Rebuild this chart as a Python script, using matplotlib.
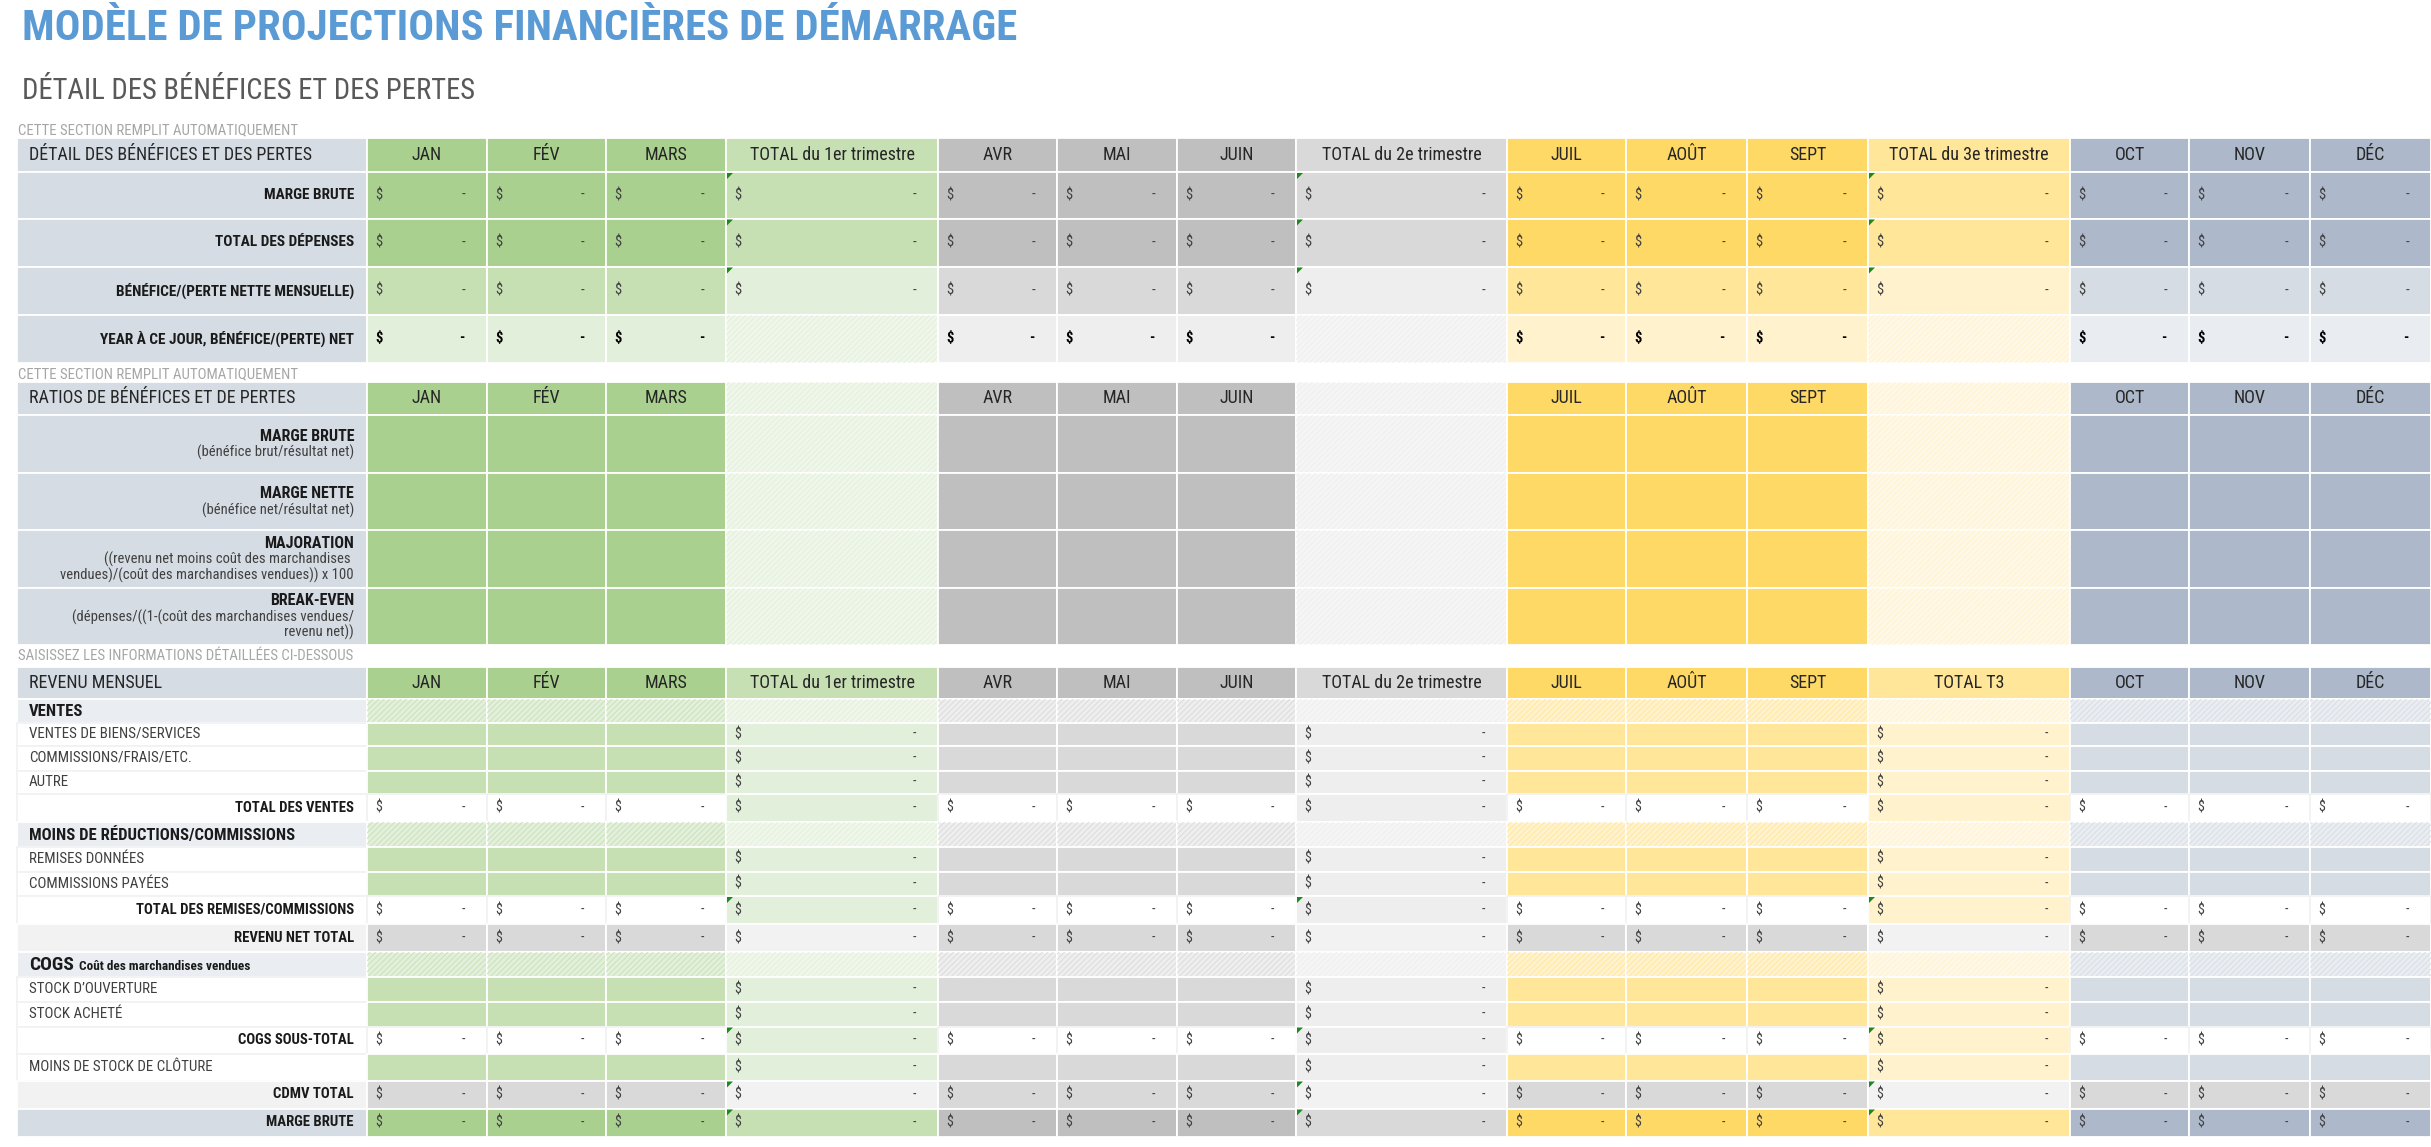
import matplotlib
matplotlib.use("Agg")
import matplotlib.pyplot as plt
from matplotlib.patches import Rectangle, Polygon
from matplotlib import font_manager

# ---- libellés du modèle ----
mois = ["JAN", "FÉV", "MARS", "AVR", "MAI", "JUIN", "JUIL", "AOÛT", "SEPT", "OCT", "NOV", "DÉC"]
totaux_s1 = ["TOTAL du 1er trimestre", "TOTAL du 2e trimestre", "TOTAL du 3e trimestre"]
totaux_s3 = ["TOTAL du 1er trimestre", "TOTAL du 2e trimestre", "TOTAL T3"]

titre = "MODÈLE DE PROJECTIONS FINANCIÈRES DE DÉMARRAGE"
sous_titre = "DÉTAIL DES BÉNÉFICES ET DES PERTES"
note_auto = "CETTE SECTION REMPLIT AUTOMATIQUEMENT"
note_saisie = "SAISISSEZ LES INFORMATIONS DÉTAILLÉES CI-DESSOUS"

entete_s1 = "DÉTAIL DES BÉNÉFICES ET DES PERTES"
lignes_s1 = ["MARGE BRUTE", "TOTAL DES DÉPENSES", "BÉNÉFICE/(PERTE NETTE MENSUELLE)",
             "YEAR À CE JOUR, BÉNÉFICE/(PERTE) NET"]

entete_s2 = "RATIOS DE BÉNÉFICES ET DE PERTES"
lignes_s2 = ["MARGE BRUTE", "MARGE NETTE", "MAJORATION", "BREAK-EVEN"]
notes_s2 = [["(bénéfice brut/résultat net)"],
            ["(bénéfice net/résultat net)"],
            ["((revenu net moins coût des marchandises ",
             "vendues)/(coût des marchandises vendues)) x 100"],
            ["(dépenses/((1-(coût des marchandises vendues/", "revenu net))"]]

entete_s3 = "REVENU MENSUEL"
lignes_s3 = ["VENTES", "VENTES DE BIENS/SERVICES", "COMMISSIONS/FRAIS/ETC.", "AUTRE",
             "TOTAL DES VENTES", "MOINS DE RÉDUCTIONS/COMMISSIONS", "REMISES DONNÉES",
             "COMMISSIONS PAYÉES", "TOTAL DES REMISES/COMMISSIONS", "REVENU NET TOTAL",
             "COGS", "STOCK D’OUVERTURE", "STOCK ACHETÉ", "COGS SOUS-TOTAL",
             "MOINS DE STOCK DE CLÔTURE", "CDMV TOTAL", "MARGE BRUTE"]
genres_s3 = ["sec", "in", "in", "in", "tot", "sec", "in", "in", "tot", "net",
             "sec", "in", "in", "tot", "in", "net", "gm"]
cogs_detail = "Coût des marchandises vendues"
valeur = "-"

# ---- mise en page (pixels) ----
W, H = 2431, 1147
bords_col = [17, 367, 487, 606, 726, 938, 1057, 1177, 1296, 1507, 1626, 1747, 1868,
             2070, 2189, 2310, 2431]
bords_s1 = [138, 172, 218.5, 266.5, 314.5, 362.5]
bords_s2 = [381.5, 415, 473, 530, 587.5, 644.5]
bords_s3 = [666.5, 699, 722.5, 745.5, 770.5, 794, 821.5, 846.5, 871.5, 896, 924, 952,
            977, 1001.5, 1026.5, 1054, 1080.5, 1108.5, 1136.5]

PAL = [dict(d="#A9D08E", m="#C6E0B4", l="#E2EFDA", p="#EFF6EA"),
       dict(d="#BFBFBF", m="#D9D9D9", l="#EEEEEE", p="#F5F5F5"),
       dict(d="#FFD966", m="#FFE699", l="#FFF2CC", p="#FFF8E6"),
       dict(d="#ADB9CA", m="#D6DCE4", l="#E9EDF2", p="#F3F5F8")]
BLEU_LBL = "#D6DCE4"

dispo = {f.name for f in font_manager.fontManager.ttflist}
police = next((f for f in ["Liberation Sans Narrow", "Roboto Condensed", "Liberation Sans"]
               if f in dispo), "DejaVu Sans")
plt.rcParams["font.family"] = [police, "DejaVu Sans"]
plt.rcParams["hatch.linewidth"] = 0.6

fig = plt.figure(figsize=(W / 100, H / 100), dpi=100)
ax = fig.add_axes([0, 0, 1, 1])
ax.set_xlim(0, W)
ax.set_ylim(H, 0)
ax.axis("off")

# colonnes : (x0, x1, genre, trimestre, index mois)
colonnes = []
k = 1
im = 0
for q in range(4):
    for _ in range(3):
        colonnes.append((bords_col[k], bords_col[k + 1], "m", q, im))
        k += 1
        im += 1
    if q < 3:
        colonnes.append((bords_col[k], bords_col[k + 1], "t", q, None))
        k += 1

XD = bords_col[1] - 13   # bord droit des libellés


def cellule(x0, x1, y0, y1, fc, hachure=None, ec="white"):
    ax.add_patch(Rectangle((x0, y0), x1 - x0, y1 - y0, facecolor=fc, edgecolor=ec, linewidth=1.3))
    if hachure:
        ax.add_patch(Rectangle((x0, y0), x1 - x0, y1 - y0, facecolor="none",
                               edgecolor=hachure, linewidth=0, hatch="//////"))


def dollar(x0, x1, ym, gras=False, couleur="#404040", taille=10.5):
    w = "bold" if gras else "normal"
    ax.text(x0 + 8, ym, "$", ha="left", va="center", fontsize=taille, color=couleur, fontweight=w)
    ax.text(x1 - 22, ym, valeur, ha="right", va="center", fontsize=taille, color=couleur, fontweight=w)


def triangle(x0, y0):
    ax.add_patch(Polygon([(x0 + 1, y0 + 1), (x0 + 7, y0 + 1), (x0 + 1, y0 + 7)],
                         closed=True, facecolor="#1B8A1B", edgecolor="none"))


def ajuster(t, largeur):
    r = fig.canvas.get_renderer()
    bb = t.get_window_extent(r)
    t.set_fontsize(t.get_fontsize() * largeur / bb.width)


# ---- titres ----
t = ax.text(22, 28, titre, ha="left", va="center", fontsize=30, fontweight="bold", color="#5B9BD5")
ajuster(t, 993)
t = ax.text(22, 91, sous_titre, ha="left", va="center", fontsize=20, color="#595959")
ajuster(t, 452)
for y, txt, larg in [(130, note_auto, 279), (374, note_auto, 279), (656, note_saisie, 337)]:
    t = ax.text(18, y, txt, ha="left", va="center", fontsize=8, color="#A6A6A6")
    ajuster(t, larg)

ENT = 13
COUL_ENT = "#262626"

# ---- section 1 ----
y0, y1 = bords_s1[0], bords_s1[1]
cellule(bords_col[0], bords_col[1], y0, y1, BLEU_LBL)
ax.text(29, (y0 + y1) / 2, entete_s1, ha="left", va="center", fontsize=ENT, color=COUL_ENT)
for x0, x1, g, q, i in colonnes:
    cellule(x0, x1, y0, y1, PAL[q]["d"] if g == "m" else PAL[q]["m"])
    lbl = mois[i] if g == "m" else totaux_s1[q]
    ax.text((x0 + x1) / 2, (y0 + y1) / 2, lbl, ha="center", va="center", fontsize=ENT, color=COUL_ENT)

for r, lbl in enumerate(lignes_s1):
    y0, y1 = bords_s1[r + 1], bords_s1[r + 2]
    ym = (y0 + y1) / 2
    cellule(bords_col[0], bords_col[1], y0, y1, BLEU_LBL)
    ax.text(XD, ym, lbl, ha="right", va="center", fontsize=11,
            fontweight="bold", color="#1A1A1A")
    for x0, x1, g, q, i in colonnes:
        if r < 2:
            fc = PAL[q]["d"] if g == "m" else PAL[q]["m"]
        elif r == 2:
            fc = PAL[q]["m"] if g == "m" else PAL[q]["l"]
        else:
            fc = PAL[q]["l"] if g == "m" else PAL[q]["p"]
        if r == 3 and g == "t":
            cellule(x0, x1, y0, y1, fc, hachure=PAL[q]["l"])
            continue
        cellule(x0, x1, y0, y1, fc)
        if r == 3:
            dollar(x0, x1, ym, gras=True, couleur="#000000")
        else:
            dollar(x0, x1, ym)
            if g == "t":
                triangle(x0, y0)

# ---- section 2 ----
y0, y1 = bords_s2[0], bords_s2[1]
cellule(bords_col[0], bords_col[1], y0, y1, BLEU_LBL)
ax.text(29, (y0 + y1) / 2, entete_s2, ha="left", va="center", fontsize=ENT, color=COUL_ENT)
for x0, x1, g, q, i in colonnes:
    if g == "m":
        cellule(x0, x1, y0, y1, PAL[q]["d"])
        ax.text((x0 + x1) / 2, (y0 + y1) / 2, mois[i], ha="center", va="center",
                fontsize=ENT, color=COUL_ENT)
    else:
        cellule(x0, x1, y0, y1, PAL[q]["p"], hachure=PAL[q]["l"])

for r, lbl in enumerate(lignes_s2):
    y0, y1 = bords_s2[r + 1], bords_s2[r + 2]
    ym = (y0 + y1) / 2
    cellule(bords_col[0], bords_col[1], y0, y1, BLEU_LBL)
    n = 1 + len(notes_s2[r])
    haut = ym - (n - 1) * 15.5 / 2
    ax.text(XD, haut, lbl, ha="right", va="center", fontsize=11.5,
            fontweight="bold", color="#1A1A1A")
    for j, ligne in enumerate(notes_s2[r]):
        ax.text(XD, haut + 15.5 * (j + 1) + 1, ligne, ha="right", va="center",
                fontsize=10.5, color="#404040")
    for x0, x1, g, q, i in colonnes:
        if g == "m":
            cellule(x0, x1, y0, y1, PAL[q]["d"])
        else:
            cellule(x0, x1, y0, y1, PAL[q]["p"], hachure=PAL[q]["l"])

# ---- section 3 ----
y0, y1 = bords_s3[0], bords_s3[1]
cellule(bords_col[0], bords_col[1], y0, y1, BLEU_LBL)
ax.text(29, (y0 + y1) / 2, entete_s3, ha="left", va="center", fontsize=ENT, color=COUL_ENT)
for x0, x1, g, q, i in colonnes:
    cellule(x0, x1, y0, y1, PAL[q]["d"] if g == "m" else PAL[q]["m"])
    lbl = mois[i] if g == "m" else totaux_s3[q]
    ax.text((x0 + x1) / 2, (y0 + y1) / 2, lbl, ha="center", va="center", fontsize=ENT, color=COUL_ENT)

fond_lbl = {"sec": "#EAEEF3", "in": "white", "tot": "white", "net": "#F2F2F2", "gm": BLEU_LBL}
avec_triangle = ["TOTAL DES REMISES/COMMISSIONS", "COGS SOUS-TOTAL", "CDMV TOTAL", "MARGE BRUTE"]

for r, lbl in enumerate(lignes_s3):
    y0, y1 = bords_s3[r + 1], bords_s3[r + 2]
    ym = (y0 + y1) / 2
    g3 = genres_s3[r]
    cellule(bords_col[0], bords_col[1], y0, y1, fond_lbl[g3],
            ec="#F2F2F2" if fond_lbl[g3] == "white" else "white")
    if g3 == "sec":
        t = ax.text(29, ym + 1, lbl, ha="left", va="center", fontsize=12,
                    fontweight="bold", color="#1A1A1A")
        if lbl == "COGS":
            t.set_fontsize(14)
            bb = t.get_window_extent(fig.canvas.get_renderer())
            xd = ax.transData.inverted().transform((bb.x1, 0))[0]
            ax.text(xd + 5, ym + 2, cogs_detail, ha="left", va="center", fontsize=9.5,
                    fontweight="bold", color="#1A1A1A")
    elif g3 == "in":
        ax.text(29, ym, lbl, ha="left", va="center", fontsize=10.8, color="#404040")
    else:
        ax.text(XD, ym, lbl, ha="right", va="center", fontsize=10.6,
                fontweight="bold", color="#1A1A1A")

    for x0, x1, g, q, i in colonnes:
        if g3 == "sec":
            if g == "m":
                cellule(x0, x1, y0, y1, PAL[q]["l"], hachure=PAL[q]["m"])
            else:
                cellule(x0, x1, y0, y1, PAL[q]["p"], hachure=PAL[q]["l"])
        elif g3 == "in":
            if g == "m":
                cellule(x0, x1, y0, y1, PAL[q]["m"])
            else:
                cellule(x0, x1, y0, y1, PAL[q]["l"])
                dollar(x0, x1, ym, taille=10)
        elif g3 == "tot":
            if g == "m":
                cellule(x0, x1, y0, y1, "white", ec="#F2F2F2")
            else:
                cellule(x0, x1, y0, y1, PAL[q]["l"])
            dollar(x0, x1, ym, taille=10)
        elif g3 == "net":
            cellule(x0, x1, y0, y1, "#D9D9D9" if g == "m" else "#F2F2F2")
            dollar(x0, x1, ym, taille=10)
        else:
            cellule(x0, x1, y0, y1, PAL[q]["d"] if g == "m" else PAL[q]["m"])
            dollar(x0, x1, ym, taille=10)
        if g == "t" and lbl in avec_triangle:
            triangle(x0, y0)

fig.savefig("out.png", dpi=100)
